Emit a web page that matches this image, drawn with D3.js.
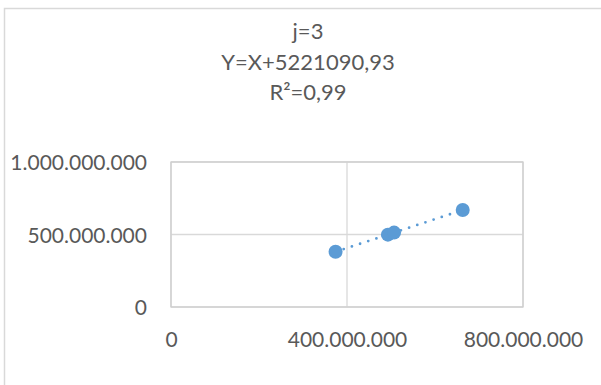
<!DOCTYPE html>
<html><head><meta charset="utf-8">
<script src="https://cdn.jsdelivr.net/npm/d3@7"></script>
<style>
html,body{margin:0;padding:0;background:#fff;}
svg{display:block;font-family:Lato,"Open Sans",sans-serif;}
</style></head>
<body>
<svg id="chart" width="601" height="385"></svg>
<script>
const titleLines = ["j=3", "Y=X+5221090,93", "R²=0,99"];
const xValues = [374e6, 493e6, 507e6, 663e6];
const yValues = [381e6, 499e6, 513e6, 669e6];
const xTicks = [0, 400e6, 800e6];
const yTicks = [0, 500e6, 1000e6];

const svg = d3.select("#chart");
const W = 601, H = 385;
const margin = {left: 171, right: 78, top: 162, bottom: 78};
const x = d3.scaleLinear().domain([0, 800e6]).range([margin.left, W - margin.right]);
const y = d3.scaleLinear().domain([0, 1000e6]).range([H - margin.bottom, margin.top]);
const fmt = v => d3.format(",")(v).replace(/,/g, ".");
const textColor = "#595959";
const font = "Lato,'Open Sans',sans-serif";

// outer chart border
svg.append("rect").attr("x", 4.5).attr("y", 8.5).attr("width", 620).attr("height", 400)
  .attr("fill", "none").attr("stroke", "#d9d9d9").attr("stroke-width", 1.5);

// title
svg.append("g").selectAll("text").data(titleLines).join("text")
  .attr("x", 308).attr("y", (d, i) => [39, 70, 100][i])
  .attr("text-anchor", "middle").attr("fill", textColor)
  .attr("font-size", 22).text(d => d);

// gridlines
const grid = svg.append("g").attr("stroke", "#d9d9d9").attr("stroke-width", 1.3);
grid.selectAll(".gx").data(xTicks).join("line")
  .attr("x1", d => x(d)).attr("x2", d => x(d))
  .attr("y1", y(0)).attr("y2", y(1000e6));
grid.selectAll(".gy").data(yTicks).join("line")
  .attr("y1", d => y(d)).attr("y2", d => y(d))
  .attr("x1", x(0)).attr("x2", x(800e6));
// plot box
svg.append("rect").attr("x", x(0)).attr("y", y(1000e6))
  .attr("width", x(800e6) - x(0)).attr("height", y(0) - y(1000e6))
  .attr("fill", "none").attr("stroke", "#cfcfcf").attr("stroke-width", 1.3);

// axes (labels only)
const xAxis = d3.axisBottom(x).tickValues(xTicks).tickFormat(fmt).tickSize(0).tickPadding(0);
const gx = svg.append("g").attr("transform", `translate(0,${y(0) + 39.5})`).call(xAxis);
gx.select(".domain").remove();
gx.selectAll("text").attr("fill", textColor).attr("font-size", 21)
  .attr("font-family", font).attr("dy", "0");

const yAxis = d3.axisLeft(y).tickValues(yTicks).tickFormat(fmt).tickSize(0).tickPadding(24);
const gy = svg.append("g").attr("transform", `translate(${x(0)},1)`).call(yAxis);
gy.select(".domain").remove();
gy.selectAll("text").attr("fill", textColor).attr("font-size", 21)
  .attr("font-family", font);

// linear regression trendline
const n = xValues.length;
const mx = d3.mean(xValues), my = d3.mean(yValues);
let sxy = 0, sxx = 0;
for (let i = 0; i < n; i++) { sxy += (xValues[i] - mx) * (yValues[i] - my); sxx += (xValues[i] - mx) ** 2; }
const slope = sxy / sxx, intercept = my - slope * mx;
const x0 = d3.min(xValues), x1 = d3.max(xValues);
svg.append("line")
  .attr("x1", x(x0)).attr("y1", y(slope * x0 + intercept))
  .attr("x2", x(x1)).attr("y2", y(slope * x1 + intercept))
  .attr("stroke", "#5b9bd5").attr("stroke-width", 2.8)
  .attr("stroke-linecap", "round").attr("stroke-dasharray", "0,8.6");

// points
svg.append("g").selectAll("circle").data(xValues).join("circle")
  .attr("cx", (d) => x(d)).attr("cy", (d, i) => y(yValues[i]))
  .attr("r", 7).attr("fill", "#5b9bd5");
</script>
</body></html>
